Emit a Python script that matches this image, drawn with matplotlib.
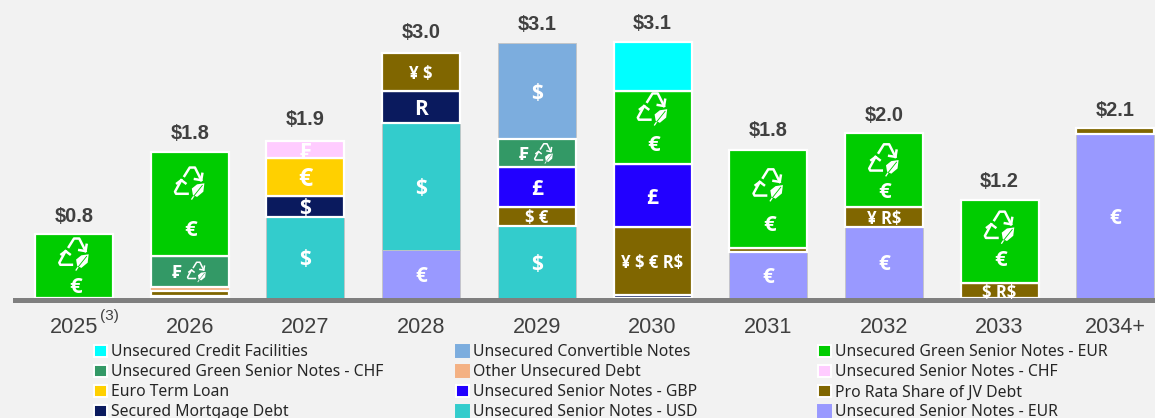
import matplotlib

matplotlib.use("Agg")
import matplotlib.pyplot as plt
import numpy as np
from matplotlib.lines import Line2D
from matplotlib.patches import Patch, Polygon
from matplotlib.transforms import Affine2D, IdentityTransform

years = ["2025", "2026", "2027", "2028", "2029", "2030", "2031", "2032", "2033", "2034+"]
totals = ["$0.8", "$1.8", "$1.9", "$3.0", "$3.1", "$3.1", "$1.8", "$2.0", "$1.2", "$2.1"]

# $bn, bottom to top of each stack
senior_eur = [0, 0, 0, 0.59, 0, 0, 0.56, 0.87, 0, 2.00]
senior_usd = [0, 0, 0.99, 1.55, 0.88, 0, 0, 0, 0, 0]
mortgage = [0, 0.03, 0.26, 0.39, 0, 0.04, 0, 0, 0, 0]
jv_debt = [0, 0.05, 0, 0.46, 0.23, 0.83, 0.05, 0.24, 0.18, 0.07]
senior_gbp = [0, 0, 0, 0, 0.49, 0.76, 0, 0, 0, 0]
term_loan = [0, 0, 0.46, 0, 0, 0, 0, 0, 0, 0]
senior_chf = [0, 0, 0.20, 0, 0, 0, 0, 0, 0, 0]
other_debt = [0, 0.06, 0, 0.01, 0, 0, 0, 0, 0, 0]
green_chf = [0, 0.37, 0, 0, 0.34, 0, 0, 0, 0, 0]
green_eur = [0.78, 1.27, 0, 0, 0, 0.89, 1.20, 0.90, 1.02, 0]
convertible = [0, 0, 0, 0, 1.17, 0, 0, 0, 0, 0]
credit = [0, 0, 0, 0, 0, 0.60, 0, 0, 0, 0]

jv_labels = ["", "", "", "¥ $", "$ €", "¥ $ € R$", "", "¥ R$", "$ R$", ""]
usd_labels = ["", "", "$", "$", "$", "", "", "", "", ""]
eur_labels = ["", "", "", "€", "", "", "€", "€", "", "€"]
mortgage_labels = ["", "", "$", "R", "", "", "", "", "", ""]

WHITE = "white"
GREY = "#c4c4c4"
# name, values, colour, edge, labels, label size
stack = [
    ("Unsecured Senior Notes - EUR", senior_eur, "#9999ff", GREY, eur_labels, 15),
    ("Unsecured Senior Notes - USD", senior_usd, "#33cccc", GREY, usd_labels, 15),
    ("Secured Mortgage Debt", mortgage, "#0a1a5e", WHITE, mortgage_labels, 15),
    ("Pro Rata Share of JV Debt", jv_debt, "#806600", WHITE, jv_labels, 12),
    ("Unsecured Senior Notes - GBP", senior_gbp, "#2200ff", WHITE, [""] * 4 + ["£", "£"] + [""] * 4, 15),
    ("Euro Term Loan", term_loan, "#ffd000", WHITE, ["", "", "€"] + [""] * 7, 18),
    ("Unsecured Senior Notes - CHF", senior_chf, "#ffccff", WHITE, ["", "", "₣"] + [""] * 7, 15),
    ("Other Unsecured Debt", other_debt, "#f4b183", "none", [""] * 10, 11),
    ("Unsecured Green Senior Notes - CHF", green_chf, "#339966", WHITE, [""] * 10, 11),
    ("Unsecured Green Senior Notes - EUR", green_eur, "#00cc00", WHITE, [""] * 10, 15),
    ("Unsecured Convertible Notes", convertible, "#7cadde", GREY, [""] * 4 + ["$"] + [""] * 5, 15),
    ("Unsecured Credit Facilities", credit, "#00ffff", WHITE, [""] * 10, 15),
]

legend_columns = [
    ["Unsecured Credit Facilities", "Unsecured Green Senior Notes - CHF", "Euro Term Loan", "Secured Mortgage Debt"],
    ["Unsecured Convertible Notes", "Other Unsecured Debt", "Unsecured Senior Notes - GBP", "Unsecured Senior Notes - USD"],
    ["Unsecured Green Senior Notes - EUR", "Unsecured Senior Notes - CHF", "Pro Rata Share of JV Debt", "Unsecured Senior Notes - EUR"],
]

# where the icon and the euro sign sit inside each green segment (share of its height)
green_icon_at = [0.70, 0.71, 0, 0, 0, 0.77, 0.65, 0.65, 0.68, 0]
green_euro_at = [0.20, 0.27, 0, 0, 0, 0.29, 0.25, 0.23, 0.30, 0]
# gap in points between the top of a stack and its total
total_gap = [12.5, 13, 15.5, 14, 13, 13.5, 14, 13, 13, 13]

W, H = 1155, 418
BASE_PX = 298
PX_PER_BN = 82
SLOT_PX = 115.7
FIRST_PX = 74
LEFT_PX = 15
SYMBOLS = ["Open Sans", "DejaVu Sans"]

plt.rcParams["font.family"] = ["Liberation Sans", "DejaVu Sans"]


def recycle_icon(ax, x, y, colour, scale=1.0):
    """Recycling arrows with a leaf, drawn in pixel offsets around a data point."""
    px, py = ax.transData.transform((x, y))
    trans = Affine2D().scale(scale).translate(px, py) + IdentityTransform()
    lw = 1.7 * scale
    paths = [
        [(-5, 6), (0, 14), (5, 14), (11, 2)],
        [(5, 3), (11, 2), (12, 8)],
        [(-2, -11), (-13, -11), (-14, -9), (-8, 2)],
        [(-12, -1), (-8, 2), (-4, -1)],
    ]
    for path in paths:
        xs, ys = zip(*path)
        ax.add_line(Line2D(xs, ys, color="white", lw=lw, transform=trans, clip_on=False, zorder=6))
    leaf = [(2, -6), (7, -2), (14, -1), (13, -9), (7, -14), (3, -12)]
    ax.add_patch(Polygon(leaf, color="white", lw=0, transform=trans, zorder=6))
    ax.add_line(Line2D([2, 4], [-16, -13], color="white", lw=0.9 * scale, transform=trans, zorder=6))
    ax.add_line(Line2D([4, 12], [-13, -3], color=colour, lw=0.6 * scale, transform=trans, zorder=7))


fig = plt.figure(figsize=(W / 100, H / 100), dpi=100, facecolor="#f2f2f2")
ax = fig.add_axes([LEFT_PX / W, (H - BASE_PX) / H, (W - LEFT_PX) / W, BASE_PX / H])
ax.set_facecolor("#f2f2f2")
ax.set_xlim((LEFT_PX - FIRST_PX) / SLOT_PX, (W - FIRST_PX) / SLOT_PX)
ax.set_ylim(0, BASE_PX / PX_PER_BN)

x = np.arange(len(years))
bottom = np.zeros(len(years))
handles = {}
for name, values, colour, edge, labels, size in stack:
    values = np.array(values, dtype=float)
    shown = values > 0
    # framed pieces go on top so their white border is not covered by a neighbour
    z = 3 if edge == WHITE else 2
    ax.bar(x[shown], values[shown], bottom=bottom[shown], width=78 / SLOT_PX, color=colour,
           edgecolor=edge, linewidth=1.6 if edge == WHITE else 0.6, zorder=z)
    handles[name] = Patch(facecolor=colour, edgecolor=edge if edge == WHITE else colour, linewidth=1.4)
    for i, label in enumerate(labels):
        if label:
            ax.text(i, bottom[i] + values[i] / 2, label, color="white", fontsize=size, fontweight="bold",
                    family=SYMBOLS, ha="center", va="center_baseline", zorder=5, parse_math=False)
    if name.endswith("Green Senior Notes - EUR"):
        for i in x[shown]:
            ax.text(i + 0.01, bottom[i] + values[i] * green_euro_at[i], "€", color="white", fontsize=16,
                    fontweight="bold", family=SYMBOLS, ha="center", va="center_baseline", zorder=5)
            recycle_icon(ax, i, bottom[i] + values[i] * green_icon_at[i], colour, scale=1.05)
    if name.endswith("Green Senior Notes - CHF"):
        for i in x[shown]:
            ax.text(i - 0.115, bottom[i] + values[i] / 2, "₣", color="white", fontsize=13, fontweight="bold",
                    family=SYMBOLS, ha="center", va="center_baseline", zorder=5)
            recycle_icon(ax, i + 0.06, bottom[i] + values[i] / 2, colour, scale=0.65)
    bottom += values

for i, total in enumerate(totals):
    ax.annotate(total, (i, bottom[i]), xytext=(0, total_gap[i]), textcoords="offset points", ha="center",
                va="center", fontsize=14.4, fontweight="bold", color="#404040", zorder=6,
                parse_math=False)

for side in ["top", "left", "right"]:
    ax.spines[side].set_visible(False)
ax.spines["bottom"].set_color("#7f7f7f")
ax.spines["bottom"].set_linewidth(3.6)
ax.spines["bottom"].set_position(("outward", 1.2))
ax.spines["bottom"].set_zorder(4)
ax.set_yticks([])
ax.set_xticks(x)
ax.set_xticklabels(years, fontsize=15.6, color="#404040")
ax.tick_params(axis="x", length=0, pad=12.5)
ax.annotate("(3)", (0, 0), xytext=(25.5, -13), textcoords="offset points", fontsize=11, color="#404040",
            ha="center", va="center", annotation_clip=False)

for labels, left_px in zip(legend_columns, [94, 456, 818]):
    legend = fig.legend([handles[n] for n in labels], labels, loc="upper left",
                        bbox_to_anchor=(left_px / W, (H - 344.5) / H), frameon=False, borderpad=0,
                        borderaxespad=0, handlelength=0.85, handleheight=0.85,
                        handletextpad=0.2, labelspacing=0.25,
                        prop={"family": "Noto Sans", "size": 11.35})
    for text in legend.get_texts():
        text.set_color("#262626")

fig.savefig("out.png", dpi=100, facecolor=fig.get_facecolor())
